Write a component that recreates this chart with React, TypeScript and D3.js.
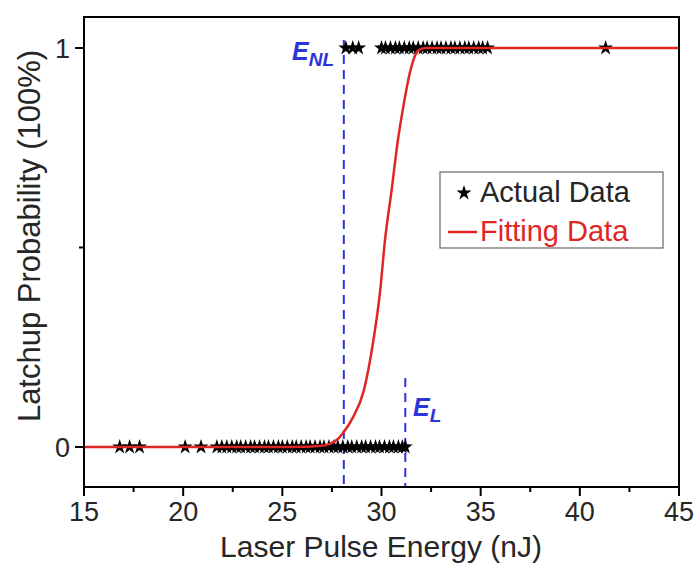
import React from "react";
import * as d3 from "d3";

const zeroX = [16.8, 17.3, 17.8, 20.1, 20.9, 21.7, 21.95, 22.2, 22.45, 22.7, 22.9, 23.15, 23.4, 23.6, 23.85, 24.1, 24.3, 24.55, 24.8, 25.0, 25.25, 25.5, 25.7, 25.95, 26.2, 26.4, 26.65, 26.9, 27.1, 27.35, 27.6, 27.8, 28.05, 28.3, 28.5, 28.75, 29.0, 29.2, 29.45, 29.7, 29.9, 30.15, 30.4, 30.6, 30.85, 31.05, 31.2];
const oneX = [28.2, 28.55, 28.85, 30.0, 30.2, 30.45, 30.7, 30.9, 31.15, 31.4, 31.6, 31.85, 32.1, 32.3, 32.55, 32.8, 33.0, 33.25, 33.5, 33.7, 33.95, 34.2, 34.4, 34.65, 34.9, 35.1, 35.35, 41.3];
const fitX = [15, 20, 25, 26, 26.5, 27, 27.4, 27.8, 28.06, 28.57, 29.1, 29.6, 29.93, 30.18, 30.5, 30.83, 31.09, 31.44, 31.84, 32.2, 33, 36, 40, 45];
const fitY = [0, 0, 0.0003, 0.0008, 0.0015, 0.003, 0.008, 0.02, 0.035, 0.075, 0.14, 0.27, 0.39, 0.52, 0.64, 0.77, 0.85, 0.94, 0.993, 1, 1, 1, 1, 1];
const xTicks = [15, 20, 25, 30, 35, 40, 45];
const xMinor = [17.5, 22.5, 27.5, 32.5, 37.5, 42.5];
const yTicks = [0, 1];
const yMinor = [0.5];
const eNL = 28.1;
const eL = 31.2;

export default function App() {
  const W = 694, H = 565;
  const x = d3.scaleLinear().domain([15, 45]).range([84, 679]);
  const y = d3.scaleLinear().domain([0, 1]).range([447, 48]);
  const top = 17, bottom = 487;
  const star = d3.symbol().type(d3.symbolStar).size(70)() as string;
  const line = d3.line<number>().x((d, i) => x(fitX[i])).y((d) => y(d)).curve(d3.curveMonotoneX);
  const font = "Liberation Sans, Arial, sans-serif";
  const blue = "#2b35d8";
  const red = "#e02525";
  const txt = "#262626";
  return (
    <svg width={W} height={H} style={{ position: "absolute", left: 0, top: 0 }} fontFamily={font}>
      <rect width={W} height={H} fill="#fff" />
      <line x1={x(eNL)} x2={x(eNL)} y1={40} y2={bottom} stroke={blue} strokeWidth={2} strokeDasharray="9,6" />
      <line x1={x(eL)} x2={x(eL)} y1={378} y2={bottom} stroke={blue} strokeWidth={2} strokeDasharray="9,6" />
      {zeroX.map((v, i) => (
        <path key={"z" + i} d={star} transform={`translate(${x(v)},${y(0)})`} fill="#000" />
      ))}
      {oneX.map((v, i) => (
        <path key={"o" + i} d={star} transform={`translate(${x(v)},${y(1)})`} fill="#000" />
      ))}
      <path d={line(fitY) as string} fill="none" stroke={red} strokeWidth={2.5} />
      <rect x={84} y={top} width={679 - 84} height={bottom - top} fill="none" stroke="#000" strokeWidth={2} />
      {xTicks.map((t) => (
        <g key={"xt" + t}>
          <line x1={x(t)} x2={x(t)} y1={bottom} y2={bottom + 9} stroke="#000" strokeWidth={2} />
          <text x={x(t)} y={521} fontSize={27} textAnchor="middle" fill={txt}>{t}</text>
        </g>
      ))}
      {xMinor.map((t) => (
        <line key={"xm" + t} x1={x(t)} x2={x(t)} y1={bottom} y2={bottom + 5} stroke="#000" strokeWidth={2} />
      ))}
      {yTicks.map((t) => (
        <g key={"yt" + t}>
          <line x1={84} x2={75} y1={y(t)} y2={y(t)} stroke="#000" strokeWidth={2} />
          <text x={70} y={y(t) + 10} fontSize={27} textAnchor="end" fill={txt}>{t}</text>
        </g>
      ))}
      {yMinor.map((t) => (
        <line key={"ym" + t} x1={84} x2={79} y1={y(t)} y2={y(t)} stroke="#000" strokeWidth={2} />
      ))}
      <text x={381} y={557} fontSize={30} textAnchor="middle" fill={txt}>Laser Pulse Energy (nJ)</text>
      <text transform={`translate(40,236) rotate(-90)`} fontSize={31} textAnchor="middle" fill={txt}>Latchup Probability (100%)</text>
      <text x={292} y={60} fontSize={25} fontWeight="bold" fontStyle="italic" fill={blue}>E<tspan fontSize={19} dy={6}>NL</tspan></text>
      <text x={413} y={416} fontSize={25} fontWeight="bold" fontStyle="italic" fill={blue}>E<tspan fontSize={19} dy={6}>L</tspan></text>
      <rect x={440} y={172} width={223} height={76} fill="#fff" stroke="#666" strokeWidth={1.2} />
      <path d={star} transform={`translate(464,193)`} fill="#000" />
      <text x={480} y={202} fontSize={29} fill={txt}>Actual Data</text>
      <line x1={448} x2={477} y1={232} y2={232} stroke={red} strokeWidth={2.5} />
      <text x={480} y={241} fontSize={29} fill={red}>Fitting Data</text>
    </svg>
  );
}
